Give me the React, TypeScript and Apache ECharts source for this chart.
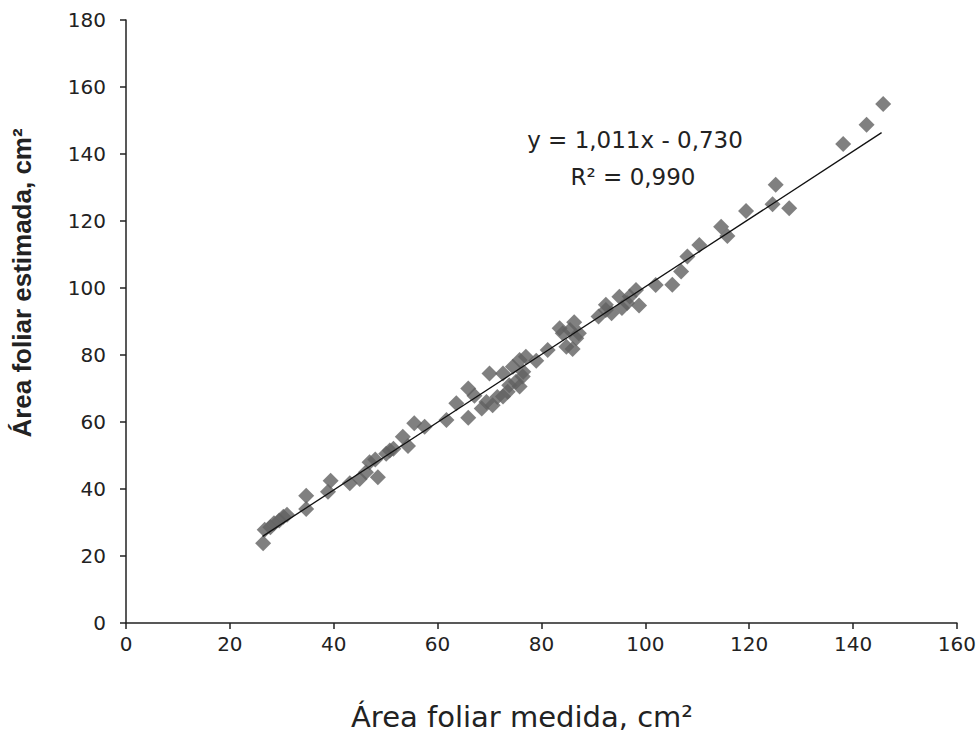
import React, { useEffect, useRef } from "react";
import * as echarts from "echarts";

const xTicks = [0, 20, 40, 60, 80, 100, 120, 140, 160];
const yTicks = [0, 20, 40, 60, 80, 100, 120, 140, 160, 180];

const measured: number[] = [
  26.4, 26.7, 27.8, 28.5, 29.5, 30.3, 31.0, 34.7, 34.7, 38.9, 39.4, 43.1, 45.0, 46.2, 46.9, 48.0, 48.5,
  50.1, 50.8, 51.5, 53.3, 54.3, 55.5, 57.5, 61.7, 63.6, 65.9, 65.9, 67.1, 68.5, 69.4, 70.0, 70.6, 71.5,
  72.6, 72.6, 73.5, 73.8, 74.5, 75.1, 75.8, 75.8, 76.4, 76.5, 77.0, 79.0, 81.2, 83.5, 84.1, 84.8, 85.5,
  86.0, 86.3, 86.7, 87.2, 91.0, 92.4, 92.4, 93.5, 95.0, 95.5, 96.5, 97.0, 98.2, 98.8, 102.0, 105.2,
  106.9, 108.1, 110.4, 114.6, 115.8, 119.4, 124.5, 125.1, 127.7, 138.1, 142.6, 145.8,
];
const estimated: number[] = [
  23.8, 27.8, 28.6, 29.8, 30.6, 31.7, 32.3, 38.0, 34.0, 39.2, 42.5, 41.7, 43.0, 45.0, 48.0, 48.8, 43.5,
  50.5, 51.5, 52.0, 55.6, 52.8, 59.6, 58.6, 60.6, 65.6, 61.3, 70.0, 67.8, 64.0, 66.0, 74.5, 65.0, 67.5,
  67.6, 74.5, 69.0, 71.0, 76.5, 72.0, 70.6, 78.5, 73.6, 75.0, 79.5, 78.3, 81.5, 88.0, 86.5, 82.5, 87.5,
  81.8, 89.8, 85.0, 86.5, 91.5, 93.4, 95.0, 92.5, 97.4, 94.0, 95.5, 97.5, 99.4, 94.8, 100.9, 101.0,
  104.9, 109.4, 112.8, 118.3, 115.5, 123.0, 125.0, 130.8, 123.8, 143.0, 148.7, 154.9,
];

const slope = 1.011;
const intercept = -0.73;
const trendX = [26.3, 145.5];

export default function App() {
  const ref = useRef<HTMLDivElement>(null);
  useEffect(() => {
    if (!ref.current) return;
    const chart = echarts.init(ref.current, undefined, { renderer: "svg" });
    const points = measured.map((x, i) => [x, estimated[i]]);
    const trend = trendX.map((x) => [x, slope * x + intercept]);
    const axisText = { fontFamily: "DejaVu Sans", fontSize: 20, color: "#222" };
    chart.setOption({
      animation: false,
      backgroundColor: "#fff",
      grid: { left: 126, right: 20, top: 20, bottom: 115, containLabel: false },
      xAxis: {
        type: "value",
        min: xTicks[0],
        max: xTicks[xTicks.length - 1],
        interval: 20,
        splitLine: { show: false },
        axisLine: { show: true, onZero: false, lineStyle: { color: "#222", width: 1.5 } },
        axisTick: { show: true, length: 6, lineStyle: { color: "#222", width: 1.5 } },
        axisLabel: { ...axisText, margin: 11 },
      },
      yAxis: {
        type: "value",
        min: yTicks[0],
        max: yTicks[yTicks.length - 1],
        interval: 20,
        splitLine: { show: false },
        axisLine: { show: true, onZero: false, lineStyle: { color: "#222", width: 1.5 } },
        axisTick: { show: true, length: 6, lineStyle: { color: "#222", width: 1.5 } },
        axisLabel: { ...axisText, margin: 20 },
      },
      graphic: [
        {
          type: "text",
          x: 522,
          y: 717,
          style: {
            text: "Área foliar medida, cm²",
            align: "center",
            verticalAlign: "middle",
            fontFamily: "DejaVu Sans",
            fontSize: 29,
            fill: "#222",
          },
        },
        {
          type: "text",
          rotation: Math.PI / 2,
          x: 22,
          y: 283,
          style: {
            text: "Área foliar estimada, cm²",
            align: "center",
            verticalAlign: "middle",
            fontFamily: "Liberation Sans",
            fontWeight: "bold",
            fontSize: 26,
            fill: "#222",
          },
        },
        {
          type: "text",
          x: 635,
          y: 140,
          style: {
            text: "y = 1,011x - 0,730",
            align: "center",
            verticalAlign: "middle",
            fontFamily: "DejaVu Sans",
            fontSize: 23,
            fill: "#222",
          },
        },
        {
          type: "text",
          x: 633,
          y: 177,
          style: {
            text: "R² = 0,990",
            align: "center",
            verticalAlign: "middle",
            fontFamily: "DejaVu Sans",
            fontSize: 23,
            fill: "#222",
          },
        },
      ],
      series: [
        {
          type: "scatter",
          data: points,
          symbol: "diamond",
          symbolSize: 16,
          itemStyle: { color: "#606060" },
          z: 2,
        },
        {
          type: "line",
          data: trend,
          showSymbol: false,
          symbol: "none",
          lineStyle: { color: "#111", width: 1.3 },
          z: 3,
        },
      ],
    });
    return () => chart.dispose();
  }, []);
  return <div ref={ref} style={{ width: 979, height: 738, position: "absolute", left: 0, top: 0 }} />;
}
